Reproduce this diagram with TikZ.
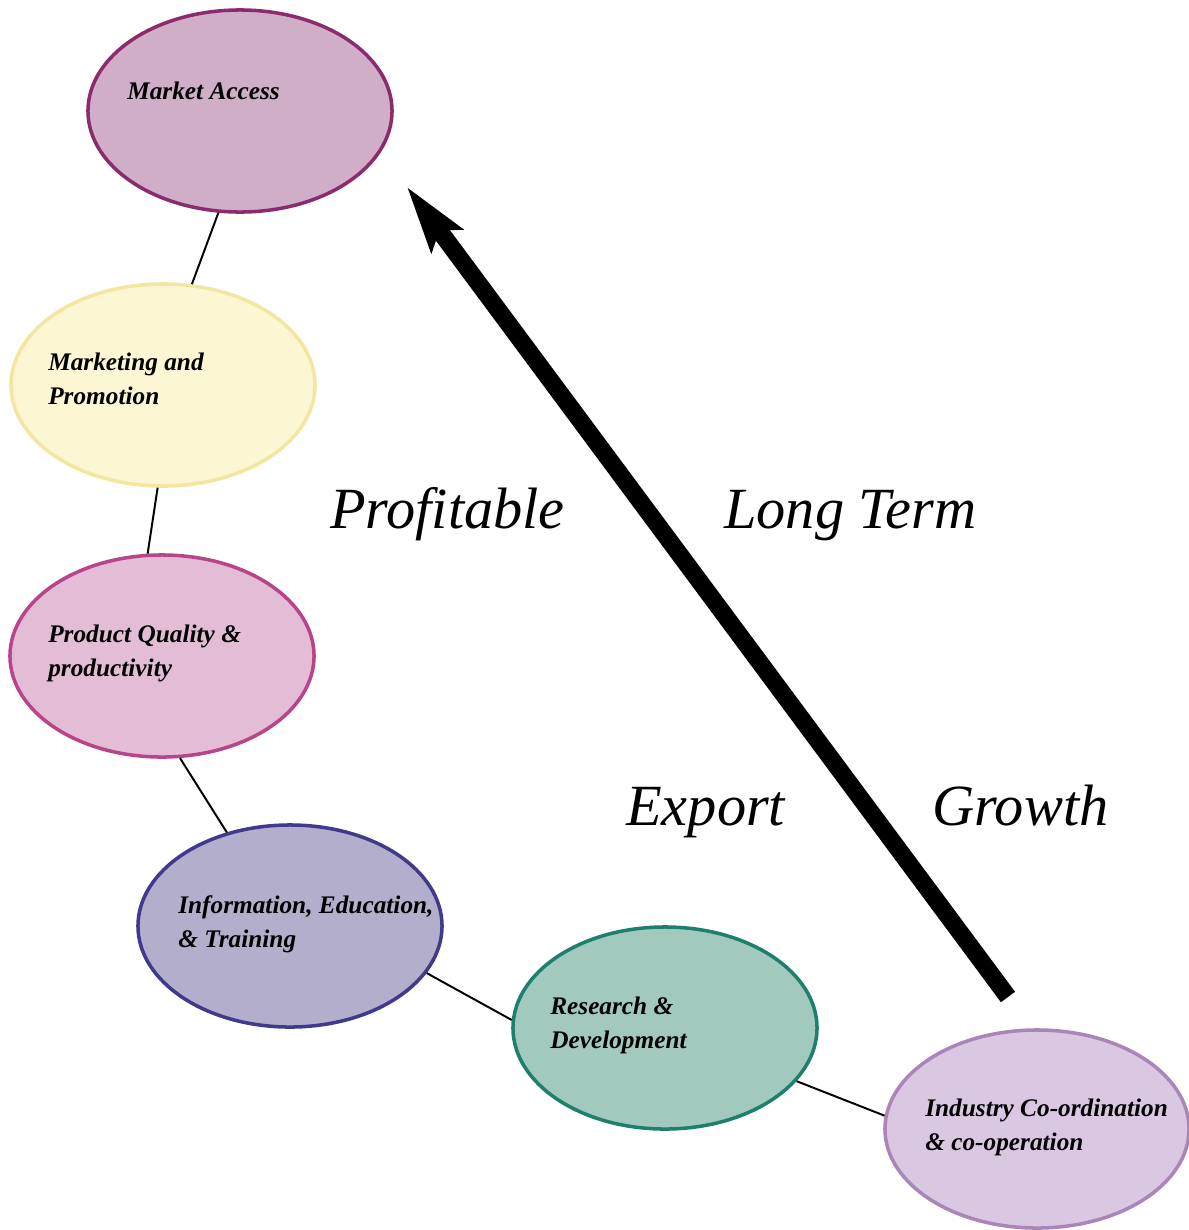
\documentclass[tikz,border=0pt]{standalone}
\usepackage{fontspec}
\setmainfont{Liberation Serif}
\usetikzlibrary{shapes.geometric,arrows.meta}

\definecolor{maFill}{RGB}{208,174,200}
\definecolor{maLine}{RGB}{140,42,110}
\definecolor{mpFill}{RGB}{253,246,211}
\definecolor{mpLine}{RGB}{242,230,160}
\definecolor{pqFill}{RGB}{227,189,213}
\definecolor{pqLine}{RGB}{184,68,138}
\definecolor{ieFill}{RGB}{179,174,203}
\definecolor{ieLine}{RGB}{63,58,140}
\definecolor{rdFill}{RGB}{162,201,189}
\definecolor{rdLine}{RGB}{29,127,108}
\definecolor{icFill}{RGB}{218,199,226}
\definecolor{icLine}{RGB}{169,133,186}

\tikzset{
  bubble/.style={ellipse, line width=2.5pt, minimum width=7.6cm, minimum height=5.05cm, inner sep=0pt},
  % multi-line labels sit on the baseline of their last line
  tag/.style={anchor=base west, align=left, inner sep=0pt,
              font=\fontsize{18}{23.5}\selectfont\bfseries\itshape},
  big/.style={anchor=base west, inner sep=0pt, font=\fontsize{41.5}{49}\selectfont\itshape},
  link/.style={line width=1.4pt},
  bigarrow/.style={line width=12.5pt,
                   -{Stealth[length=1.65cm, width=0.95cm, inset=0.3cm]}},
}

\begin{document}
\begin{tikzpicture}[x=0.025cm,y=-0.025cm]
\useasboundingbox (0,0) rectangle (1189,1230);

% the six stages
\node[bubble, fill=maFill, draw=maLine] (ma) at (240,111) {};
\node[bubble, fill=mpFill, draw=mpLine] (mp) at (163,385) {};
\node[bubble, fill=pqFill, draw=pqLine] (pq) at (162,656) {};
\node[bubble, fill=ieFill, draw=ieLine] (ie) at (290,926) {};
\node[bubble, fill=rdFill, draw=rdLine] (rd) at (665,1028) {};
\node[bubble, fill=icFill, draw=icLine, minimum height=4.95cm] (ic) at (1037,1129) {};

% chain between the stages
\draw[link] (ma.258) -- (mp.74);
\draw[link] (mp.267) -- (pq.98);
\draw[link] (pq.280) -- (ie.124);
\draw[link] (ie.341) -- (rd.177);
\draw[link] (rd.338) -- (ic.175);

% stage labels
\node[tag] (maT) at (127,99) {Market Access};
\node[tag] (mpT) at (48,404) {Marketing and\\Promotion};
\node[tag] (pqT) at (48,676) {Product Quality \&\\productivity};
\node[tag] (ieT) at (178,947) {Information, Education,\\\& Training};
\node[tag] (rdT) at (550,1048) {Research \&\\Development};
\node[tag] (icT) at (925,1150) {Industry Co-ordination\\\& co-operation};

% growth arrow
\coordinate (tail) at (1008,997);
\coordinate (tip) at (407,187);
\draw[bigarrow] (tail) -- (tip);

% headline words
\node[big] (w1) at (330,528) {Profitable};
\node[big] (w2) at (724,528) {Long Term};
\node[big] (w3) at (626,825) {Export};
\node[big] (w4) at (932,825) {Growth};
\end{tikzpicture}
\end{document}
